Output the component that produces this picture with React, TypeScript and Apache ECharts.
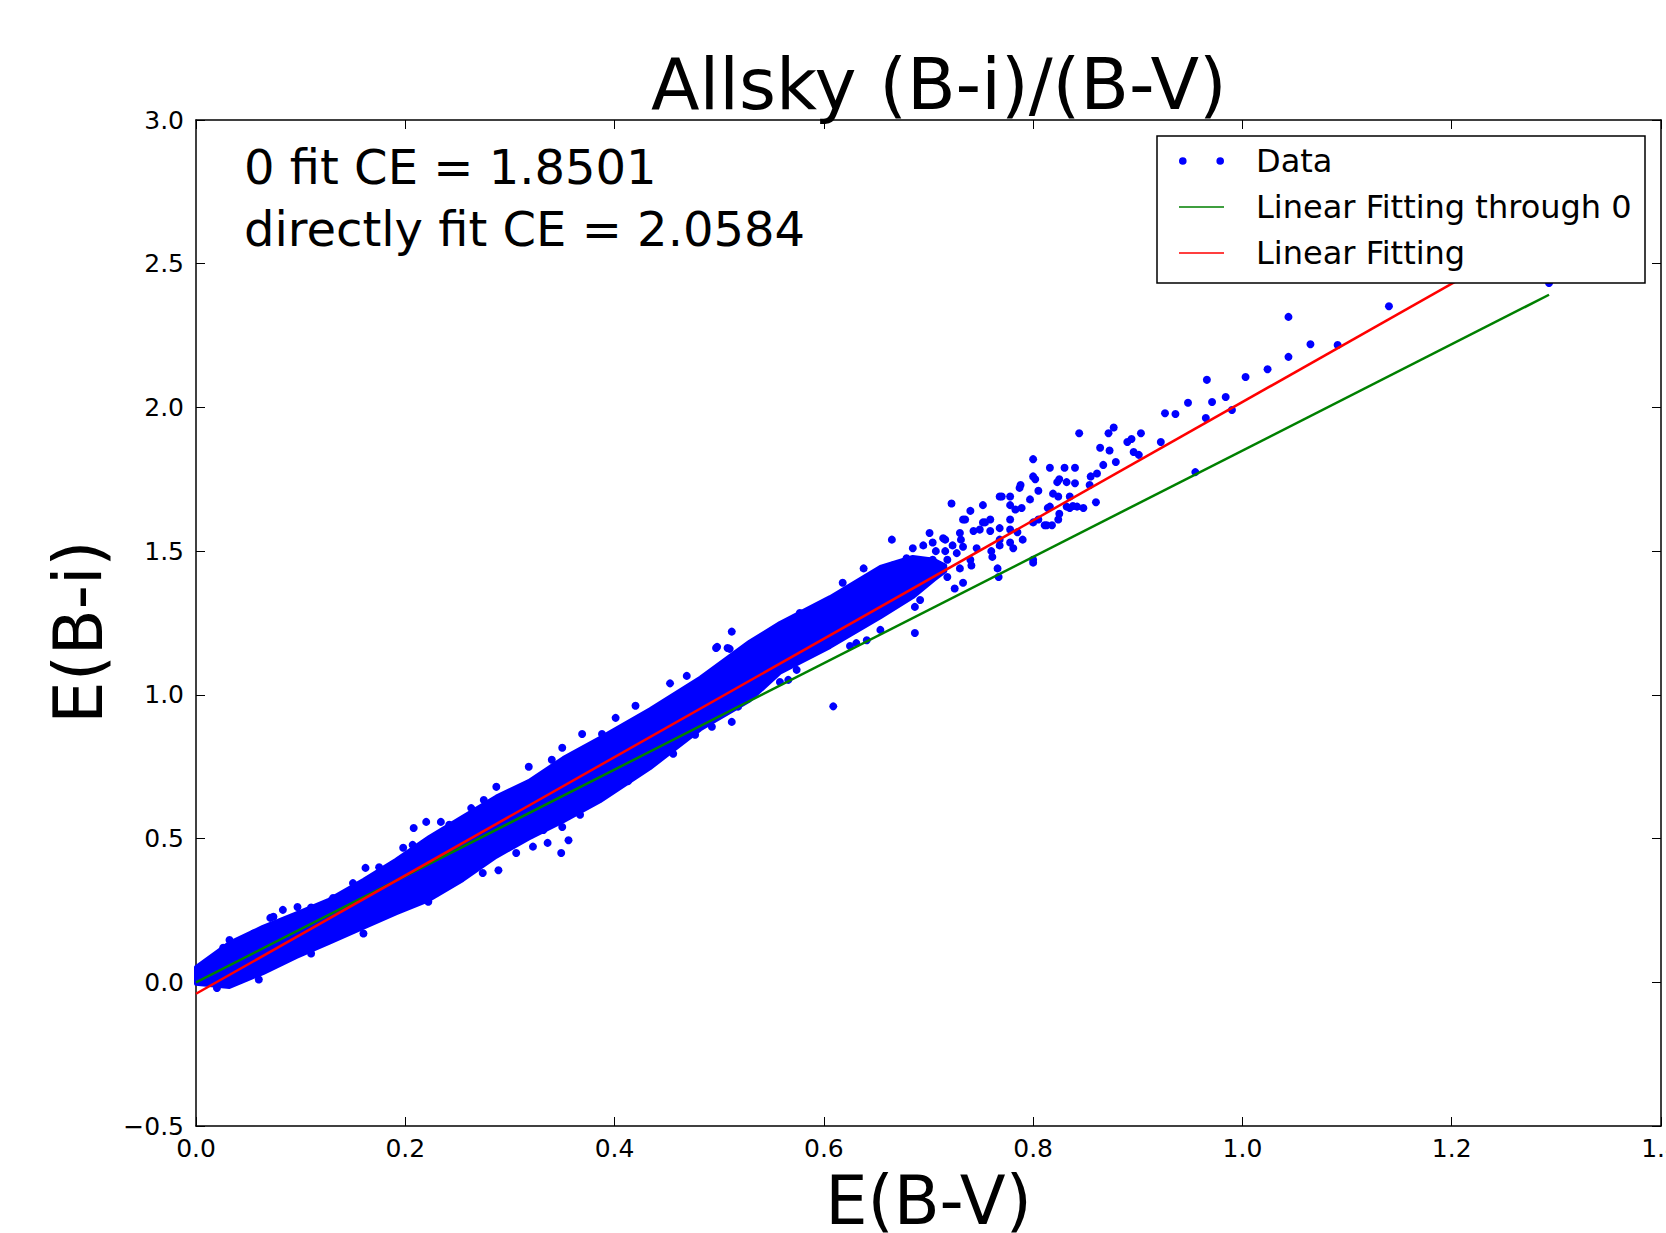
import React, { useEffect, useRef } from "react";
import * as echarts from "echarts";

const FONT = "DejaVu Sans";
const TITLE = "Allsky (B-i)/(B-V)";
const X_NAME = "E(B-V)";
const Y_NAME = "E(B-i)";
const ANNOTATIONS = ["0 fit CE = 1.8501", "directly fit CE = 2.0584"];
const LEGEND_NAMES = ["Data", "Linear Fitting through 0", "Linear Fitting"];

// axis ranges [min, max, interval]
const X_AXIS = [0, 1.4, 0.2];
const Y_AXIS = [-0.5, 3.0, 0.5];

// Dense core of the scatter cloud: upper / lower envelope
const bandX = [0.0, 0.032, 0.064, 0.096, 0.127, 0.16, 0.191, 0.223, 0.255, 0.287, 0.318, 0.351, 0.386, 0.434, 0.482, 0.529, 0.558, 0.606, 0.654, 0.685, 0.705, 0.716];
const bandUpper = [0.053, 0.137, 0.193, 0.24, 0.287, 0.356, 0.426, 0.506, 0.576, 0.646, 0.7, 0.78, 0.85, 0.95, 1.06, 1.185, 1.25, 1.34, 1.445, 1.48, 1.47, 1.45];
const bandLower = [-0.005, -0.016, 0.032, 0.088, 0.137, 0.19, 0.24, 0.287, 0.356, 0.437, 0.5, 0.56, 0.63, 0.745, 0.88, 0.98, 1.077, 1.167, 1.27, 1.34, 1.4, 1.43];

// Individual scattered points (edges of the cloud and outliers)
const dataPoints: number[][] = [
  [0.026, 0.12], [0.032, 0.147], [0.055, 0.17], [0.071, 0.224], [0.074, 0.228], [0.083, 0.252], [0.097, 0.262],
  [0.11, 0.26], [0.131, 0.293], [0.15, 0.345], [0.162, 0.398], [0.175, 0.4], [0.198, 0.468], [0.207, 0.478],
  [0.208, 0.537], [0.22, 0.558], [0.234, 0.558], [0.242, 0.548], [0.263, 0.606], [0.275, 0.634], [0.287, 0.68],
  [0.318, 0.75], [0.34, 0.774], [0.35, 0.816], [0.369, 0.864], [0.388, 0.864], [0.401, 0.92], [0.42, 0.962],
  [0.453, 1.04], [0.469, 1.066], [0.497, 1.163], [0.51, 1.16], [0.512, 1.22], [0.498, 1.167], [0.508, 1.163],
  [0.577, 1.285], [0.59, 1.295], [0.618, 1.39], [0.638, 1.44], [0.651, 1.42], [0.666, 1.45], [0.665, 1.54],
  [0.679, 1.475], [0.685, 1.51], [0.695, 1.52], [0.704, 1.47], [0.707, 1.5],
  [0.02, -0.02], [0.06, 0.01], [0.11, 0.1], [0.16, 0.17], [0.222, 0.28], [0.274, 0.38], [0.289, 0.39],
  [0.306, 0.45], [0.322, 0.472], [0.332, 0.53], [0.336, 0.485], [0.344, 0.558], [0.35, 0.54], [0.349, 0.45],
  [0.356, 0.494], [0.367, 0.583], [0.384, 0.645], [0.413, 0.7], [0.429, 0.756], [0.456, 0.795], [0.477, 0.861],
  [0.493, 0.889], [0.512, 0.906], [0.518, 0.959], [0.529, 1.007], [0.558, 1.045], [0.566, 1.052], [0.574, 1.087],
  [0.609, 0.96], [0.625, 1.17], [0.631, 1.18], [0.641, 1.19], [0.654, 1.226], [0.687, 1.215], [0.687, 1.306],
  [0.692, 1.33], [0.682, 1.365], [0.701, 1.43],
  [0.701, 1.563], [0.714, 1.545], [0.704, 1.53], [0.716, 1.54], [0.716, 1.5], [0.718, 1.41], [0.718, 1.47],
  [0.722, 1.666], [0.723, 1.52], [0.725, 1.37], [0.727, 1.493], [0.731, 1.54], [0.73, 1.563], [0.73, 1.44],
  [0.733, 1.61], [0.733, 1.515], [0.733, 1.39], [0.735, 1.61], [0.74, 1.64], [0.74, 1.47], [0.741, 1.45],
  [0.743, 1.57], [0.746, 1.51], [0.749, 1.575], [0.752, 1.6], [0.752, 1.66], [0.754, 1.6], [0.759, 1.61],
  [0.759, 1.57], [0.76, 1.5], [0.761, 1.48], [0.766, 1.44], [0.767, 1.41], [0.768, 1.69], [0.768, 1.58],
  [0.768, 1.54], [0.768, 1.52], [0.77, 1.69], [0.778, 1.69], [0.778, 1.575], [0.778, 1.66], [0.778, 1.61],
  [0.778, 1.53], [0.781, 1.51], [0.783, 1.645], [0.785, 1.566], [0.787, 1.72], [0.788, 1.73], [0.789, 1.65],
  [0.79, 1.54], [0.797, 1.68], [0.8, 1.82], [0.8, 1.76], [0.8, 1.6], [0.8, 1.47], [0.8, 1.46], [0.802, 1.75],
  [0.805, 1.71], [0.805, 1.61], [0.811, 1.59], [0.813, 1.59], [0.814, 1.65], [0.816, 1.79], [0.816, 1.655],
  [0.818, 1.59], [0.819, 1.7], [0.823, 1.74], [0.824, 1.69], [0.824, 1.61], [0.825, 1.75], [0.825, 1.63],
  [0.83, 1.79], [0.832, 1.655], [0.832, 1.74], [0.835, 1.69], [0.835, 1.65], [0.838, 1.657], [0.84, 1.736],
  [0.84, 1.79], [0.842, 1.655], [0.844, 1.91], [0.848, 1.65], [0.854, 1.73], [0.855, 1.76], [0.86, 1.67],
  [0.861, 1.77], [0.864, 1.86], [0.867, 1.8], [0.872, 1.91], [0.873, 1.85], [0.877, 1.93], [0.879, 1.81],
  [0.89, 1.88], [0.894, 1.89], [0.896, 1.845], [0.901, 1.835], [0.903, 1.91], [0.922, 1.88], [0.926, 1.98],
  [0.936, 1.977], [0.948, 2.016], [0.955, 1.775], [0.965, 1.963], [0.966, 2.096], [0.971, 2.019], [0.984, 2.036],
  [0.99, 1.991], [1.003, 2.106], [1.024, 2.133], [1.044, 2.315], [1.044, 2.176], [1.065, 2.22], [1.091, 2.217],
  [1.14, 2.352], [1.293, 2.433],
];

// Fitted lines (end points)
const fitThrough0: number[][] = [[0, 0], [1.293, 2.392]];
const fitDirect: number[][] = [[0, -0.04], [1.293, 2.622]];

const fmt = (v: number) => {
  const s = v.toFixed(1);
  return s.startsWith("-") ? "\u2212" + s.slice(1) : s;
};

// legend icons: two dots, and a thin horizontal line (tiny corner specks keep the 45x8 box)
const ICON_DOTS = "path://M0,4A3.8,3.8,0,1,1,7.6,4A3.8,3.8,0,1,1,0,4ZM37.4,4A3.8,3.8,0,1,1,45,4A3.8,3.8,0,1,1,37.4,4Z";
const ICON_LINE = "path://M0,0L0.01,0L0,0.01ZM0,3.2L45,3.2L45,4.8L0,4.8ZM45,8L44.99,8L45,7.99Z";

function axisBase(range: number[]) {
  return {
    type: "value",
    min: range[0],
    max: range[1],
    interval: range[2],
    axisLine: { show: true, onZero: false, lineStyle: { color: "#000", width: 1.5 } },
    axisTick: { show: true, inside: true, length: 9, lineStyle: { color: "#000", width: 1 } },
    splitLine: { show: false },
  };
}

export default function App() {
  const ref = useRef<HTMLDivElement>(null);
  useEffect(() => {
    if (!ref.current) return;
    const chart = echarts.init(ref.current, undefined, { renderer: "svg" });
    const option: any = {
      animation: false,
      backgroundColor: "#fff",
      title: {
        text: TITLE,
        left: 651,
        top: 49,
        padding: 0,
        textStyle: { fontSize: 71, fontWeight: "normal", fontFamily: FONT, color: "#000" },
      },
      grid: { left: 196, right: 5, top: 120, bottom: 107, containLabel: false, outerBoundsMode: "none" },
      xAxis: [
        {
          ...axisBase(X_AXIS),
          position: "bottom",
          axisLabel: { margin: 10, fontSize: 25, color: "#000", fontFamily: FONT, formatter: fmt },
          name: X_NAME,
          nameLocation: "middle",
          nameGap: 41,
          nameTextStyle: { fontSize: 67, fontFamily: FONT, color: "#000" },
        },
        { ...axisBase(X_AXIS), position: "top", axisLabel: { show: false } },
      ],
      yAxis: [
        {
          ...axisBase(Y_AXIS),
          position: "left",
          axisLabel: { margin: 12, fontSize: 25, color: "#000", fontFamily: FONT, formatter: fmt },
          name: Y_NAME,
          nameLocation: "middle",
          nameGap: 83,
          nameRotate: 90,
          nameTextStyle: { fontSize: 67, fontFamily: FONT, color: "#000", padding: [0, 18, 0, 0] },
        },
        { ...axisBase(Y_AXIS), position: "right", axisLabel: { show: false } },
      ],
      legend: {
        orient: "vertical",
        left: 1179,
        top: 138,
        itemWidth: 45,
        itemHeight: 8,
        itemGap: 0,
        padding: 0,
        z: 10,
        textStyle: { fontSize: 32, fontFamily: FONT, color: "#000", lineHeight: 46, padding: [0, 0, 0, 27] },
        data: [
          { name: LEGEND_NAMES[0], icon: ICON_DOTS, itemStyle: { color: "#0000ff", borderWidth: 0 } },
          { name: LEGEND_NAMES[1], icon: ICON_LINE, itemStyle: { color: "#008000", borderWidth: 0 } },
          { name: LEGEND_NAMES[2], icon: ICON_LINE, itemStyle: { color: "#ff0000", borderWidth: 0 } },
        ],
      },
      graphic: {
        elements: [
          {
            type: "rect",
            z: 5,
            shape: { x: 1157, y: 136, width: 488, height: 147 },
            style: { fill: "#fff", stroke: "#000", lineWidth: 1.5 },
          },
          {
            type: "text",
            x: 244,
            y: 167,
            z: 5,
            style: { text: ANNOTATIONS[0], fontSize: 48, fontFamily: FONT, fill: "#000", verticalAlign: "middle" },
          },
          {
            type: "text",
            x: 244,
            y: 229,
            z: 5,
            style: { text: ANNOTATIONS[1], fontSize: 48, fontFamily: FONT, fill: "#000", verticalAlign: "middle" },
          },
        ],
      },
      series: [
        {
          type: "custom",
          name: "DataCore",
          xAxisIndex: 0,
          yAxisIndex: 0,
          z: 1,
          silent: true,
          data: [[bandX[0], bandLower[0]]],
          renderItem: (params: any, api: any) => {
            const pts: number[][] = [];
            for (let i = 0; i < bandX.length; i++) pts.push(api.coord([bandX[i], bandUpper[i]]));
            for (let i = bandX.length - 1; i >= 0; i--) pts.push(api.coord([bandX[i], bandLower[i]]));
            return {
              type: "polygon",
              shape: { points: pts },
              style: { fill: "#0000ff", stroke: "#0000ff", lineWidth: 4, lineJoin: "round" },
            };
          },
        },
        {
          type: "scatter",
          name: LEGEND_NAMES[0],
          data: dataPoints,
          symbol: "circle",
          symbolSize: 8,
          itemStyle: { color: "#0000ff", opacity: 1 },
          z: 2,
        },
        {
          type: "line",
          name: LEGEND_NAMES[1],
          data: fitThrough0,
          symbol: "none",
          lineStyle: { color: "#008000", width: 2.5 },
          itemStyle: { color: "#008000" },
          z: 3,
        },
        {
          type: "line",
          name: LEGEND_NAMES[2],
          data: fitDirect,
          symbol: "none",
          lineStyle: { color: "#ff0000", width: 2.5 },
          itemStyle: { color: "#ff0000" },
          z: 4,
        },
      ],
    };
    chart.setOption(option);
    return () => chart.dispose();
  }, []);
  return (
    <div
      ref={ref}
      style={{ position: "absolute", left: 0, top: 0, width: 1666, height: 1233, background: "#fff" }}
    />
  );
}
